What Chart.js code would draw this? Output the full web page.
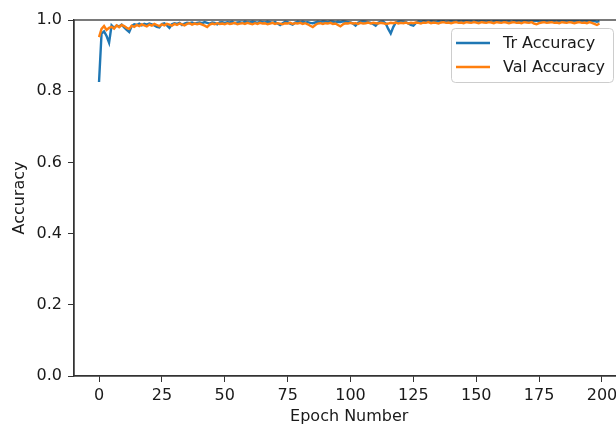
<!DOCTYPE html>
<html>
<head>
<meta charset="utf-8">
<script src="https://cdn.jsdelivr.net/npm/chart.js@4.4.1/dist/chart.umd.min.js"></script>
<style>
  html, body { margin: 0; padding: 0; background: #fff; overflow: hidden; }
  #wrap { width: 640px; height: 429px; }
</style>
</head>
<body>
<div id="wrap"><canvas id="accChart" width="640" height="429"></canvas></div>
<script>
// epochs 0..199
const epochs = Array.from({ length: 200 }, (_, i) => i);

const trAccuracy = [
  0.826, 0.962, 0.968, 0.955, 0.936, 0.985, 0.978, 0.984, 0.982, 0.987,
  0.979, 0.972, 0.966, 0.983, 0.988, 0.986, 0.990, 0.985, 0.989, 0.987,
  0.990, 0.988, 0.985, 0.981, 0.979, 0.989, 0.991, 0.985, 0.978, 0.988,
  0.991, 0.989, 0.992, 0.986, 0.990, 0.992, 0.991, 0.993, 0.990, 0.992,
  0.993, 0.991, 0.994, 0.992, 0.990, 0.993, 0.992, 0.988, 0.993, 0.994,
  0.992, 0.994, 0.993, 0.995, 0.991, 0.993, 0.994, 0.992, 0.995, 0.994,
  0.993, 0.995, 0.994, 0.992, 0.995, 0.994, 0.993, 0.995, 0.994, 0.992,
  0.994, 0.990, 0.986, 0.991, 0.995, 0.994, 0.990, 0.987, 0.993, 0.995,
  0.994, 0.995, 0.993, 0.994, 0.992, 0.991, 0.993, 0.995, 0.994, 0.996,
  0.995, 0.994, 0.996, 0.995, 0.993, 0.995, 0.994, 0.996, 0.995, 0.994,
  0.993, 0.990, 0.984, 0.992, 0.995, 0.996, 0.995, 0.994, 0.992, 0.989,
  0.984, 0.992, 0.995, 0.996, 0.990, 0.975, 0.962, 0.980, 0.993, 0.995,
  0.996, 0.995, 0.994, 0.990, 0.986, 0.984, 0.992, 0.996, 0.995, 0.997,
  0.996, 0.995, 0.997, 0.996, 0.995, 0.997, 0.996, 0.997, 0.995, 0.996,
  0.997, 0.996, 0.995, 0.997, 0.996, 0.997, 0.998, 0.996, 0.997, 0.995,
  0.997, 0.996, 0.998, 0.997, 0.996, 0.997, 0.995, 0.997, 0.998, 0.996,
  0.997, 0.998, 0.996, 0.997, 0.995, 0.997, 0.998, 0.997, 0.996, 0.998,
  0.997, 0.996, 0.998, 0.997, 0.998, 0.996, 0.997, 0.998, 0.997, 0.996,
  0.998, 0.997, 0.996, 0.998, 0.997, 0.998, 0.996, 0.997, 0.998, 0.997,
  0.998, 0.996, 0.997, 0.998, 0.997, 0.996, 0.998, 0.997, 0.995, 0.997
];

const valAccuracy = [
  0.952, 0.975, 0.983, 0.972, 0.978, 0.981, 0.976, 0.985, 0.980, 0.986,
  0.983, 0.978, 0.975, 0.984, 0.981, 0.986, 0.983, 0.988, 0.985, 0.982,
  0.987, 0.984, 0.989, 0.986, 0.983, 0.988, 0.985, 0.989, 0.987, 0.984,
  0.989, 0.986, 0.990, 0.988, 0.985, 0.989, 0.991, 0.987, 0.990, 0.988,
  0.990, 0.987, 0.984, 0.980, 0.987, 0.990, 0.988, 0.991, 0.989, 0.990,
  0.988, 0.991, 0.989, 0.990, 0.992, 0.988, 0.990, 0.991, 0.989, 0.992,
  0.990, 0.988, 0.991, 0.989, 0.992, 0.990, 0.991, 0.988, 0.990, 0.992,
  0.989, 0.991, 0.990, 0.988, 0.991, 0.990, 0.992, 0.989, 0.991, 0.990,
  0.992, 0.989, 0.991, 0.988, 0.984, 0.980, 0.986, 0.990, 0.991, 0.989,
  0.991, 0.990, 0.992, 0.989, 0.990, 0.986, 0.982, 0.988, 0.991, 0.990,
  0.992, 0.990, 0.991, 0.989, 0.992, 0.990, 0.991, 0.993, 0.990, 0.992,
  0.991, 0.990, 0.992, 0.991, 0.989, 0.990, 0.992, 0.991, 0.993, 0.990,
  0.992, 0.991, 0.993, 0.990, 0.992, 0.991, 0.993, 0.992, 0.990, 0.993,
  0.992, 0.994, 0.991, 0.993, 0.992, 0.990, 0.993, 0.994, 0.992, 0.993,
  0.991, 0.993, 0.994, 0.992, 0.993, 0.991, 0.994, 0.993, 0.992, 0.994,
  0.993, 0.991, 0.994, 0.993, 0.992, 0.994, 0.993, 0.991, 0.994, 0.993,
  0.992, 0.994, 0.993, 0.991, 0.993, 0.994, 0.992, 0.993, 0.991, 0.994,
  0.993, 0.992, 0.994, 0.990, 0.988, 0.991, 0.993, 0.994, 0.992, 0.993,
  0.994, 0.992, 0.993, 0.991, 0.994, 0.993, 0.992, 0.994, 0.993, 0.991,
  0.993, 0.994, 0.992, 0.993, 0.991, 0.994, 0.992, 0.989, 0.986, 0.990
];

const xTicks = [0, 25, 50, 75, 100, 125, 150, 175, 200];
const yTicks = [0.0, 0.2, 0.4, 0.6, 0.8, 1.0];

const FONT = { family: 'DejaVu Sans', size: 16 };
const AXIS_COLOR = '#333';
const TEXT_COLOR = '#1a1a1a';

// frame (top spine) + matplotlib style legend
const framePlugin = {
  id: 'frame',
  afterDatasetsDraw(chart) {
    const { ctx, chartArea: a } = chart;
    ctx.save();
    ctx.strokeStyle = AXIS_COLOR;
    ctx.lineWidth = 1.3;
    ctx.strokeRect(a.left, a.top, a.right - a.left, a.bottom - a.top);
    ctx.restore();
  },
  afterDraw(chart) {
    const ctx = chart.ctx;
    const bx = 451, by = 28, bw = 162, bh = 54;
    ctx.save();
    ctx.beginPath();
    ctx.roundRect(bx + 0.5, by + 0.5, bw, bh, 4);
    ctx.fillStyle = 'rgba(255,255,255,0.85)';
    ctx.fill();
    ctx.strokeStyle = 'rgba(200,200,200,0.9)';
    ctx.lineWidth = 1;
    ctx.stroke();
    ctx.font = FONT.size + 'px ' + FONT.family;
    ctx.textBaseline = 'middle';
    const rows = [43, 67];
    chart.data.datasets.forEach((ds, i) => {
      ctx.strokeStyle = ds.borderColor;
      ctx.lineWidth = 2.4;
      ctx.beginPath();
      ctx.moveTo(456, rows[i]);
      ctx.lineTo(490, rows[i]);
      ctx.stroke();
      ctx.fillStyle = TEXT_COLOR;
      ctx.fillText(ds.label, 503, rows[i] + 1);
    });
    ctx.restore();
  }
};

new Chart(document.getElementById('accChart'), {
  type: 'line',
  data: {
    datasets: [
      {
        label: 'Tr Accuracy',
        data: epochs.map((e, i) => ({ x: e, y: trAccuracy[i] })),
        borderColor: '#1f77b4',
        borderWidth: 2.4,
        pointRadius: 0,
        tension: 0,
        order: 1
      },
      {
        label: 'Val Accuracy',
        data: epochs.map((e, i) => ({ x: e, y: valAccuracy[i] })),
        borderColor: '#ff7f0e',
        borderWidth: 2.4,
        pointRadius: 0,
        tension: 0,
        order: 0
      }
    ]
  },
  options: {
    responsive: false,
    animation: false,
    layout: { padding: { top: 20, right: 15.5, left: 0, bottom: 0 } },
    plugins: {
      legend: { display: false },
      tooltip: { enabled: false }
    },
    scales: {
      x: {
        type: 'linear',
        min: -9.95,
        max: 208.95,
        afterFit: (s) => { s.height = 53; },
        afterBuildTicks: (s) => { s.ticks = xTicks.map(v => ({ value: v })); },
        grid: { display: true, drawOnChartArea: false, drawTicks: true, tickLength: 6, color: AXIS_COLOR },
        border: { display: true, color: AXIS_COLOR, width: 1.3 },
        ticks: { font: FONT, color: TEXT_COLOR, padding: 4, maxRotation: 0, callback: (v) => String(v) },
        title: { display: true, text: 'Epoch Number', font: FONT, color: TEXT_COLOR, padding: { top: 0, bottom: 3 } }
      },
      y: {
        min: 0,
        max: 1,
        afterFit: (s) => { s.width = 74; },
        afterBuildTicks: (s) => { s.ticks = yTicks.map(v => ({ value: v })); },
        grid: { display: true, drawOnChartArea: false, drawTicks: true, tickLength: 6, color: AXIS_COLOR },
        border: { display: true, color: AXIS_COLOR, width: 1.3 },
        ticks: { font: FONT, color: TEXT_COLOR, padding: 6, callback: (v) => Number(v).toFixed(1) },
        title: { display: true, text: 'Accuracy', font: FONT, color: TEXT_COLOR, padding: { top: 10, bottom: 0 } }
      }
    }
  },
  plugins: [framePlugin]
});
</script>
</body>
</html>
